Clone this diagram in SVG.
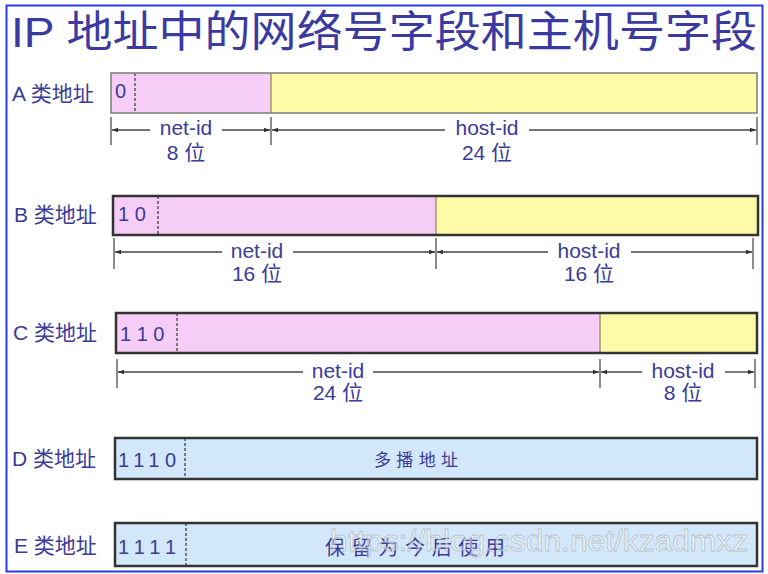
<svg xmlns="http://www.w3.org/2000/svg" width="768" height="574" viewBox="0 0 768 574">
<style>
text{font-family:"Liberation Sans","Noto Sans CJK SC",sans-serif;fill:#3b3b98}
.lbl{font-size:21px}
.dim{font-size:21px;text-anchor:middle}
.bits{font-size:20px}
.pink{fill:#f6cdf7}
.yel{fill:#fffaa8}
.blue{fill:#d2e8fa}
.box{fill:none;stroke:#333;stroke-width:2.5}
.boxa{fill:none;stroke:#85857a;stroke-width:1.6}
.div{stroke:#9a9a66;stroke-width:1.5}
.dash{stroke:#333;stroke-width:1.2;stroke-dasharray:3,2}
.tick{stroke:#666;stroke-width:1.5}
.dl{stroke:#444;stroke-width:1.4;marker-end:url(#ah)}
</style>
<defs>
<marker id="ah" viewBox="0 0 8 6" refX="8" refY="3" markerWidth="6" markerHeight="4.5" orient="auto" markerUnits="userSpaceOnUse">
<path d="M0,0 L8,3 L0,6 Z" fill="#333"/>
</marker>
</defs>
<rect x="0" y="0" width="768" height="574" fill="#fff"/>
<rect x="6.5" y="5.5" width="756" height="566" fill="none" stroke="#2a3ce6" stroke-width="2"/>
<text id="title" x="11" y="47" font-size="43" textLength="746" lengthAdjust="spacingAndGlyphs" style="fill:#3a3aa0">IP 地址中的网络号字段和主机号字段</text>

<g id="classA">
<text class="lbl" x="12" y="101">A 类地址</text>
<rect class="pink" x="111" y="73" width="160" height="40"/>
<rect class="yel" x="271" y="73" width="486" height="40"/>
<line class="div" x1="271" y1="73" x2="271" y2="113"/>
<line class="dash" x1="135" y1="73" x2="135" y2="113"/>
<rect class="boxa" x="111" y="73" width="646" height="40"/>
<text class="bits" x="115" y="98" font-size="19">0</text>
</g>
<g id="classB">
<text class="lbl" x="14" y="222">B 类地址</text>
<rect class="pink" x="113" y="196" width="323" height="39"/>
<rect class="yel" x="436" y="196" width="322" height="39"/>
<line class="div" x1="436" y1="196" x2="436" y2="235"/>
<line class="dash" x1="158" y1="196" x2="158" y2="235"/>
<rect class="box" x="113" y="196" width="645" height="39"/>
<text class="bits" x="118" y="221" font-size="21">1 0</text>
</g>
<g id="classC">
<text class="lbl" x="13" y="340">C 类地址</text>
<rect class="pink" x="116" y="313" width="484" height="40"/>
<rect class="yel" x="600" y="313" width="157" height="40"/>
<line class="div" x1="600" y1="313" x2="600" y2="353"/>
<line class="dash" x1="177" y1="313" x2="177" y2="353"/>
<rect class="box" x="116" y="313" width="641" height="40"/>
<text class="bits" x="120" y="341" font-size="21">1 1 0</text>
</g>
<g id="classD">
<text class="lbl" x="12" y="466">D 类地址</text>
<rect class="blue" x="115" y="438" width="642" height="41"/>
<line class="dash" x1="185" y1="438" x2="185" y2="479"/>
<rect class="box" x="115" y="438" width="642" height="41"/>
<text class="bits" x="118" y="467" font-size="22" textLength="58" lengthAdjust="spacing">1110</text>
<text x="416" y="466" font-size="17" text-anchor="middle" textLength="84" lengthAdjust="spacing">多 播 地 址</text>
</g>
<g id="classE">
<text class="lbl" x="14" y="553">E 类地址</text>
<rect class="blue" x="115" y="523" width="642" height="43"/>
<line class="dash" x1="186" y1="523" x2="186" y2="566"/>
<rect class="box" x="115" y="523" width="642" height="43"/>
<text class="bits" x="118" y="554" font-size="22" textLength="58" lengthAdjust="spacing">1111</text>
<text x="415" y="555" font-size="20" text-anchor="middle" textLength="180" lengthAdjust="spacing">保 留 为 今 后 使 用</text>
</g>

<g id="connectors">
<line class="tick" x1="111" y1="117" x2="111" y2="145"/>
<line class="tick" x1="271" y1="117" x2="271" y2="145"/>
<line class="tick" x1="757" y1="117" x2="757" y2="145"/>
<line class="dl" x1="150" y1="130" x2="112" y2="130"/>
<line class="dl" x1="222" y1="130" x2="270" y2="130"/>
<line class="dl" x1="445" y1="130" x2="272" y2="130"/>
<line class="dl" x1="529" y1="130" x2="756" y2="130"/>

<line class="tick" x1="114" y1="238" x2="114" y2="269"/>
<line class="tick" x1="436" y1="238" x2="436" y2="269"/>
<line class="tick" x1="753" y1="238" x2="753" y2="269"/>
<line class="dl" x1="222" y1="252" x2="115" y2="252"/>
<line class="dl" x1="293" y1="252" x2="435" y2="252"/>
<line class="dl" x1="548" y1="252" x2="437" y2="252"/>
<line class="dl" x1="631" y1="252" x2="752" y2="252"/>

<line class="tick" x1="117" y1="359" x2="117" y2="388"/>
<line class="tick" x1="600" y1="359" x2="600" y2="388"/>
<line class="tick" x1="755" y1="359" x2="755" y2="388"/>
<line class="dl" x1="303" y1="372" x2="118" y2="372"/>
<line class="dl" x1="373" y1="372" x2="599" y2="372"/>
<line class="dl" x1="642" y1="372" x2="601" y2="372"/>
<line class="dl" x1="725" y1="372" x2="754" y2="372"/>

<text class="dim" x="186" y="135">net-id</text>
<text class="dim" x="186" y="160">8 位</text>
<text class="dim" x="487" y="135">host-id</text>
<text class="dim" x="487" y="160">24 位</text>
<text class="dim" x="257" y="258">net-id</text>
<text class="dim" x="257" y="281">16 位</text>
<text class="dim" x="589" y="258">host-id</text>
<text class="dim" x="589" y="281">16 位</text>
<text class="dim" x="338" y="378">net-id</text>
<text class="dim" x="338" y="400">24 位</text>
<text class="dim" x="683" y="378">host-id</text>
<text class="dim" x="683" y="400">8 位</text>
</g>
<text x="330" y="551" font-size="30" textLength="418" lengthAdjust="spacingAndGlyphs" style="fill:#ffffff;fill-opacity:0.45;stroke:#9a9a9a;stroke-opacity:0.55;stroke-width:0.8">https://blog.csdn.net/kzadmxz</text>
</svg>
